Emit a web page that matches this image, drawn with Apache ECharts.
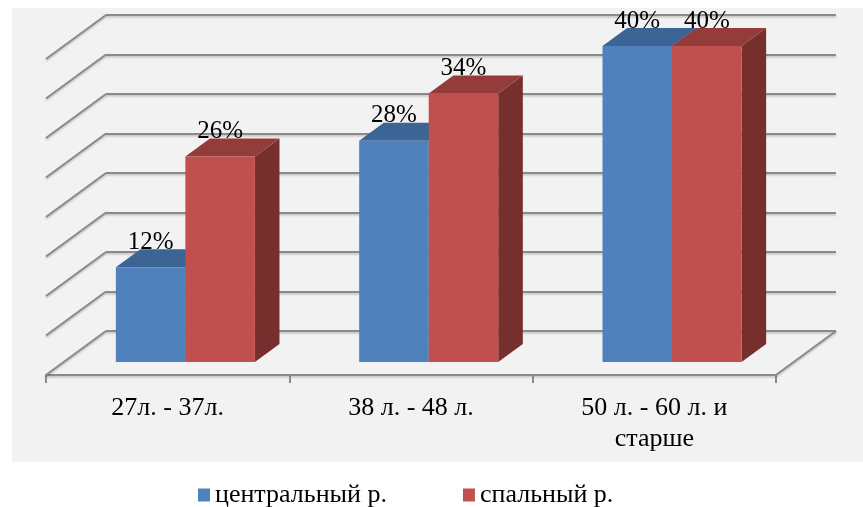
<!DOCTYPE html>
<html><head><meta charset="utf-8">
<script src="https://cdn.jsdelivr.net/npm/echarts@6/dist/echarts.min.js"></script>
<style>html,body{margin:0;padding:0;background:#fff}#c{width:863px;height:507px}</style>
</head><body><div id="c"></div>
<script>
// ---- data ----
const categories = ['27л. - 37л.', '38 л. - 48 л.', '50 л. - 60 л. и\nстарше'];
const seriesNames = ['центральный р.', 'спальный р.'];
const central = [12, 28, 40];
const sleeping = [26, 34, 40];
const yTicks = [0, 5, 10, 15, 20, 25, 30, 35, 40];

// ---- layout / style ----
const DX = 60, DY = 44;          // depth offset of the 3D box
const T0 = 0.295, T1 = 0.705;    // bar front / back depth fractions
const BAR = 0.2857;              // bar width as fraction of band
const FONT = '"Liberation Serif", "Times New Roman", serif';
const LINE = {color: '#8a8a8a', width: 2, shadowColor: 'rgba(0,0,0,0.22)', shadowBlur: 2, shadowOffsetY: 1.5};
const COLORS = [
  {front: '#4f81bd', top: '#3c6494', side: '#34577f'},
  {front: '#c0504d', top: '#943c3a', side: '#772f2e'}
];

const chart = echarts.init(document.getElementById('c'));

function barRender(sIdx) {
  const c = COLORS[sIdx];
  return function (params, api) {
    const i = api.value(0), v = api.value(1);
    const base = api.coord([i, 0]);
    const top = api.coord([i, v]);
    const bw = api.size([1, 0])[0];
    const w = bw * BAR;
    const x0 = base[0] + (sIdx - 1) * w + DX * T0;
    const x1 = x0 + w;
    const yb = base[1] - DY * T0;
    const yt = top[1] - DY * T0;
    const ox = DX * (T1 - T0), oy = DY * (T1 - T0);
    return {type: 'group', children: [
      {type: 'polygon', shape: {points: [[x1, yt], [x1 + ox, yt - oy], [x1 + ox, yb - oy], [x1, yb]]}, style: {fill: c.side}},
      {type: 'polygon', shape: {points: [[x0, yt], [x1, yt], [x1 + ox, yt - oy], [x0 + ox, yt - oy]]}, style: {fill: c.top}},
      {type: 'rect', shape: {x: x0, y: yt, width: w, height: yb - yt}, style: {fill: c.front}},
      {type: 'text', x: (x0 + x1) / 2, y: yt - oy - 7, z2: 50,
        style: {text: v + '%', font: '25px ' + FONT, fill: '#000', align: 'center', verticalAlign: 'middle',
          textAlign: 'center', textVerticalAlign: 'middle'}}
    ]};
  };
}

function frameRender(params, api) {
  const v = api.value(0);
  const p = api.coord([0, v]);
  const bw = api.size([1, 0])[0];
  const xl = p[0] - bw / 2;
  const st = {stroke: LINE.color, lineWidth: LINE.width, shadowColor: LINE.shadowColor, shadowBlur: LINE.shadowBlur, shadowOffsetY: LINE.shadowOffsetY};
  const children = [{type: 'line', shape: {x1: xl, y1: p[1], x2: xl + DX, y2: p[1] - DY}, style: st}];
  if (v === 0) {
    const r = api.coord([categories.length - 1, 0]);
    const xr = r[0] + bw / 2;
    children.push({type: 'line', shape: {x1: xr, y1: r[1], x2: xr + DX, y2: r[1] - DY}, style: st});
  }
  return {type: 'group', children: children};
}

const G0 = {left: 46, right: 87, top: 59, bottom: 132};
const G1 = {left: G0.left + DX, right: G0.right - DX, top: G0.top - DY, bottom: G0.bottom + DY};

chart.setOption({
  backgroundColor: '#ffffff',
  animation: false,
  graphic: [{type: 'rect', left: 12, top: 8, z: -100, shape: {width: 851, height: 454}, style: {fill: '#f2f2f2'}}],
  grid: [
    Object.assign({containLabel: false}, G0),
    Object.assign({containLabel: false}, G1)
  ],
  xAxis: [
    {type: 'category', gridIndex: 0, data: categories,
      axisLine: {show: true, lineStyle: LINE},
      axisTick: {show: true, length: 8, lineStyle: {color: '#8a8a8a', width: 2}},
      axisLabel: {fontFamily: FONT, fontSize: 26, color: '#000', margin: 18, lineHeight: 31},
      splitLine: {show: false}},
    {type: 'category', gridIndex: 1, data: categories, show: false}
  ],
  yAxis: [
    {type: 'value', gridIndex: 0, min: 0, max: 40, interval: 5, show: false, splitLine: {show: false}},
    {type: 'value', gridIndex: 1, min: 0, max: 40, interval: 5,
      axisLine: {show: false}, axisTick: {show: false}, axisLabel: {show: false},
      splitLine: {show: true, lineStyle: LINE}}
  ],
  legend: {
    left: 193, top: 477, itemWidth: 12, itemHeight: 13, itemGap: 76, itemTextGap: 4,
    icon: 'rect', selectedMode: false,
    textStyle: {fontFamily: FONT, fontSize: 26, color: '#000'},
    data: seriesNames
  },
  series: [
    {type: 'custom', name: 'frame', xAxisIndex: 0, yAxisIndex: 0, renderItem: frameRender,
      data: yTicks.map(v => [v]), encode: {y: 0}, silent: true, z: 1},
    {type: 'custom', name: seriesNames[0], xAxisIndex: 0, yAxisIndex: 0, renderItem: barRender(0),
      itemStyle: {color: COLORS[0].front}, data: central.map((v, i) => [i, v]), z: 3},
    {type: 'custom', name: seriesNames[1], xAxisIndex: 0, yAxisIndex: 0, renderItem: barRender(1),
      itemStyle: {color: COLORS[1].front}, data: sleeping.map((v, i) => [i, v]), z: 4}
  ]
});
</script></body></html>
